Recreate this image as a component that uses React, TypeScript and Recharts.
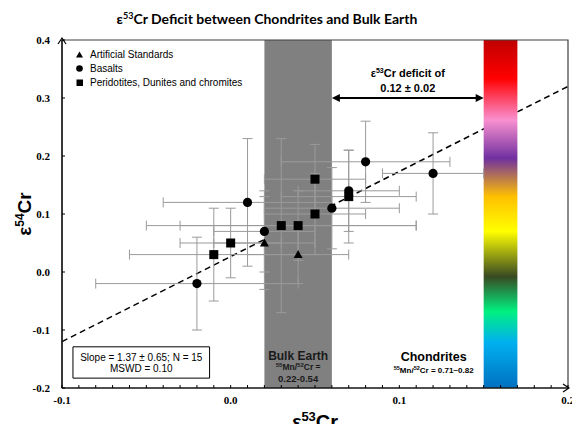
import React from "react";
import {
  ScatterChart,
  Scatter,
  XAxis,
  YAxis,
  ErrorBar,
  ReferenceArea,
  ReferenceLine,
  Legend,
} from "recharts";

// e53Cr / e54Cr with 2SD errors
const artificialStandards = [
  { x: 0.02, y: 0.05, xErr: 0.03, yErr: 0.08 },
  { x: 0.04, y: 0.03, xErr: 0.03, yErr: 0.05 },
];
const basalts = [
  { x: -0.02, y: -0.02, xErr: 0.06, yErr: 0.08 },
  { x: 0.01, y: 0.12, xErr: 0.05, yErr: 0.11 },
  { x: 0.02, y: 0.07, xErr: 0.03, yErr: 0.07 },
  { x: 0.06, y: 0.11, xErr: 0.04, yErr: 0.07 },
  { x: 0.07, y: 0.14, xErr: 0.03, yErr: 0.07 },
  { x: 0.08, y: 0.19, xErr: 0.05, yErr: 0.07 },
  { x: 0.12, y: 0.17, xErr: 0.03, yErr: 0.07 },
];
const peridotites = [
  { x: -0.01, y: 0.03, xErr: 0.05, yErr: 0.08 },
  { x: 0.0, y: 0.05, xErr: 0.03, yErr: 0.06 },
  { x: 0.03, y: 0.08, xErr: 0.08, yErr: 0.15 },
  { x: 0.04, y: 0.08, xErr: 0.07, yErr: 0.06 },
  { x: 0.05, y: 0.16, xErr: 0.03, yErr: 0.06 },
  { x: 0.05, y: 0.1, xErr: 0.03, yErr: 0.07 },
  { x: 0.07, y: 0.13, xErr: 0.04, yErr: 0.08 },
];

// regression line end points
const regression = [
  { x: -0.1, y: -0.12 },
  { x: 0.2, y: 0.32 },
];
const bulkEarthRange = [0.02, 0.06];
const chondriteRange = [0.15, 0.17];
const deficitArrow = [
  { x: 0.06, y: 0.3 },
  { x: 0.15, y: 0.3 },
];

const X_DOMAIN = [-0.1, 0.2];
const Y_DOMAIN = [-0.2, 0.4];
const Y_TICKS = [-0.2, -0.1, 0, 0.1, 0.2, 0.3, 0.4];
// minor ticks every 0.01, labels on every 0.1
const X_TICKS = Array.from({ length: 31 }, (_, i) => Math.round((-0.1 + i * 0.01) * 100) / 100);

const RAINBOW = [
  { offset: "0%", color: "#c00000" },
  { offset: "11%", color: "#ff0000" },
  { offset: "23%", color: "#f990d0" },
  { offset: "34%", color: "#7030a0" },
  { offset: "45%", color: "#ffc000" },
  { offset: "55%", color: "#ffff00" },
  { offset: "68%", color: "#384a22" },
  { offset: "78%", color: "#00f080" },
  { offset: "87%", color: "#00b0f0" },
  { offset: "100%", color: "#0070c0" },
];

const SANS = "'Liberation Sans', Arial, sans-serif";
const SERIF = "'Liberation Serif', 'Times New Roman', serif";
const ERR_COLOR = "#9a9a9a";

const fmt = (v: number) => (Math.abs(v) < 1e-9 ? "0.0" : v.toFixed(1));
const tickText = { fontFamily: SERIF, fontWeight: 700, fontSize: 11 };

const XTick = ({ x, y, payload }: any) => {
  const v = payload.value;
  const major = Math.abs(v * 10 - Math.round(v * 10)) < 1e-6;
  const last = v === X_DOMAIN[1];
  return (
    <g>
      <line x1={x} x2={x} y1={y} y2={y - 3} stroke="#000" />
      {last && <path d={`M${x - 5},${y - 4} L${x + 1},${y} L${x - 5},${y + 4}`} fill="none" stroke="#000" strokeWidth={1.2} />}
      {major && (
        <text x={x} y={y + 16} textAnchor="middle" style={tickText} fill="#000">
          {fmt(v)}
        </text>
      )}
    </g>
  );
};

const YTick = ({ x, y, payload }: any) => {
  const last = payload.value === Y_DOMAIN[1];
  return (
    <g>
      <line x1={x} x2={x + 3} y1={y} y2={y} stroke="#000" />
      {last && <path d={`M${x - 4},${y + 4} L${x},${y - 2} L${x + 4},${y + 4}`} fill="none" stroke="#000" strokeWidth={1.2} />}
      <text x={x - 12} y={y + 4} textAnchor="end" style={tickText} fill="#000">
        {fmt(payload.value)}
      </text>
    </g>
  );
};

const Circle = ({ cx, cy }: any) => <circle cx={cx} cy={cy} r={4.6} fill="#000" />;
const Square = ({ cx, cy }: any) => <rect x={cx - 4.5} y={cy - 4.5} width={9} height={9} fill="#000" />;
const Triangle = ({ cx, cy }: any) => (
  <polygon points={`${cx},${cy - 4.5} ${cx + 4.5},${cy + 3.5} ${cx - 4.5},${cy + 3.5}`} fill="#000" />
);

const legendIcon = (type: string) => {
  if (type === "triangle") return <polygon points="3.5,0.5 7,6.5 0,6.5" fill="#000" />;
  if (type === "square") return <rect x={0.5} y={0.5} width={6.5} height={6.5} fill="#000" />;
  return <circle cx={3.5} cy={3.5} r={3.3} fill="#000" />;
};

const LegendContent = ({ payload }: any) => (
  <div style={{ fontFamily: SANS, fontSize: 10, color: "#000" }}>
    {(payload || []).map((p: any) => (
      <div key={p.value} style={{ display: "flex", alignItems: "center", height: 14, whiteSpace: "nowrap" }}>
        <svg width={7} height={7} style={{ marginRight: 7 }}>
          {legendIcon(p.type)}
        </svg>
        <span>{p.value}</span>
      </div>
    ))}
  </div>
);

const BulkEarthLabel = ({ viewBox }: any) => {
  const cx = viewBox.x + viewBox.width / 2;
  const bottom = viewBox.y + viewBox.height;
  return (
    <g fontFamily={SANS} fontWeight="bold" fill="#1a1a1a" textAnchor="middle">
      <text x={cx} y={bottom - 28} fontSize={12}>Bulk Earth</text>
      <text x={cx} y={bottom - 18} fontSize={8.5}>
        <tspan fontSize={6} dy={-3}>55</tspan>
        <tspan dy={3}>Mn/</tspan>
        <tspan fontSize={6} dy={-3}>52</tspan>
        <tspan dy={3}>Cr =</tspan>
      </text>
      <text x={cx} y={bottom - 6} fontSize={9.5}>0.22-0.54</text>
    </g>
  );
};

const ChondriteLabel = ({ viewBox }: any) => {
  const cx = viewBox.x - 50;
  const bottom = viewBox.y + viewBox.height;
  return (
    <g fontFamily={SANS} fontWeight="bold" fill="#000" textAnchor="middle">
      <text x={cx} y={bottom - 27} fontSize={12.5}>Chondrites</text>
      <text x={cx} y={bottom - 15} fontSize={8}>
        <tspan fontSize={5.5} dy={-3}>55</tspan>
        <tspan dy={3}>Mn/</tspan>
        <tspan fontSize={5.5} dy={-3}>52</tspan>
        <tspan dy={3}>Cr = 0.71~0.82</tspan>
      </text>
    </g>
  );
};

const SlopeLabel = ({ viewBox }: any) => {
  const cx = viewBox.x + viewBox.width / 2;
  return (
    <g fontFamily={SANS} fontSize={10} fill="#000" textAnchor="middle">
      <text x={cx} y={viewBox.y + 14}>Slope = 1.37 ± 0.65; N = 15</text>
      <text x={cx} y={viewBox.y + 25}>MSWD = 0.10</text>
    </g>
  );
};

const DeficitArrow = ({ x1, y1, x2 }: any) => {
  const h = 8;
  const w = 4;
  const mid = (x1 + x2) / 2;
  return (
    <g>
      <line x1={x1 + h - 1} y1={y1} x2={x2 - h + 1} y2={y1} stroke="#000" strokeWidth={2} />
      <polygon points={`${x1},${y1} ${x1 + h},${y1 - w} ${x1 + h},${y1 + w}`} fill="#000" />
      <polygon points={`${x2},${y1} ${x2 - h},${y1 - w} ${x2 - h},${y1 + w}`} fill="#000" />
      <g fontFamily={SANS} fontWeight="bold" fontSize={11} fill="#000" textAnchor="middle">
        <text x={mid} y={y1 - 21}>
          ε<tspan fontSize={7} dy={-4}>53</tspan>
          <tspan dy={4}>Cr deficit of</tspan>
        </text>
        <text x={mid} y={y1 - 6}>0.12 ± 0.02</text>
      </g>
    </g>
  );
};

const XLabel = ({ viewBox }: any) => (
  <text x={viewBox.x + viewBox.width / 2} y={viewBox.y + 41} textAnchor="middle" fontFamily={SANS} fontWeight="bold" fontSize={20} fill="#000">
    ε<tspan fontSize={13} dy={-8}>53</tspan>
    <tspan dy={8}>Cr</tspan>
  </text>
);

const YLabel = ({ viewBox }: any) => {
  const x = 31;
  const y = viewBox.y + viewBox.height / 2;
  return (
    <text x={x} y={y} transform={`rotate(-90, ${x}, ${y})`} textAnchor="middle" fontFamily={SANS} fontWeight="bold" fontSize={19} fill="#000">
      ε<tspan fontSize={12} dy={-7}>54</tspan>
      <tspan dy={7}>Cr</tspan>
    </text>
  );
};

export default function App() {
  return (
    <div style={{ position: "absolute", left: 0, top: 0, width: 572, height: 424, background: "#fff", overflow: "hidden" }}>
      <div
        style={{
          position: "absolute",
          top: 8,
          left: 0,
          width: 534,
          textAlign: "center",
          fontFamily: "Lato, 'Open Sans', sans-serif",
          fontWeight: "bold",
          fontSize: 14,
          lineHeight: "16px",
          color: "#000",
        }}
      >
        ε<sup style={{ fontSize: 9, verticalAlign: 5 }}>53</sup>Cr Deficit between Chondrites and Bulk Earth
      </div>
      <ScatterChart width={572} height={424} margin={{ top: 40, right: 4, left: 0, bottom: 0 }}>
        <defs>
          <linearGradient id="rainbow" x1="0" y1="0" x2="0" y2="1">
            {RAINBOW.map((s) => (
              <stop key={s.offset} offset={s.offset} stopColor={s.color} />
            ))}
          </linearGradient>
        </defs>
        <ReferenceLine
          segment={regression}
          stroke="#000"
          strokeWidth={1.5}
          strokeDasharray="6 4"
          zIndex={50}
        />
        <ReferenceArea
          x1={bulkEarthRange[0]}
          x2={bulkEarthRange[1]}
          y1={Y_DOMAIN[0]}
          y2={Y_DOMAIN[1]}
          fill="#808080"
          fillOpacity={1}
          stroke="none"
          zIndex={60}
          label={BulkEarthLabel}
        />
        <ReferenceArea
          x1={chondriteRange[0]}
          x2={chondriteRange[1]}
          y1={Y_DOMAIN[0]}
          y2={Y_DOMAIN[1]}
          fill="url(#rainbow)"
          fillOpacity={1}
          stroke="none"
          zIndex={60}
          label={ChondriteLabel}
        />
        <ReferenceArea
          x1={X_DOMAIN[0]}
          x2={X_DOMAIN[1]}
          y1={Y_DOMAIN[0]}
          y2={Y_DOMAIN[1]}
          fill="none"
          fillOpacity={0}
          stroke="#404040"
          strokeWidth={1.2}
          zIndex={70}
        />
        <ReferenceArea
          x1={-0.0935}
          x2={-0.0125}
          y1={-0.183}
          y2={-0.129}
          fill="#fff"
          fillOpacity={1}
          stroke="#000"
          strokeWidth={1}
          label={SlopeLabel}
        />
        <ReferenceLine segment={deficitArrow} shape={DeficitArrow} zIndex={500} />
        <XAxis
          type="number"
          dataKey="x"
          domain={X_DOMAIN}
          allowDataOverflow
          ticks={X_TICKS}
          interval={0}
          tick={XTick}
          tickLine={false}
          tickSize={0}
          tickMargin={0}
          height={36}
          axisLine={{ stroke: "#000", strokeWidth: 1.2 }}
          label={XLabel}
        />
        <YAxis
          type="number"
          dataKey="y"
          domain={Y_DOMAIN}
          allowDataOverflow
          ticks={Y_TICKS}
          interval={0}
          tick={YTick}
          tickLine={false}
          tickSize={0}
          tickMargin={0}
          width={62}
          axisLine={{ stroke: "#000", strokeWidth: 1.2 }}
          label={YLabel}
        />
        <Legend
          layout="vertical"
          align="center"
          verticalAlign="middle"
          content={LegendContent}
          wrapperStyle={{ top: 47, left: 76, width: "auto" }}
        />
        <Scatter name="Artificial Standards" data={artificialStandards} legendType="triangle" fill="#000" shape={Triangle} isAnimationActive={false}>
          <ErrorBar dataKey="xErr" direction="x" width={5} stroke={ERR_COLOR} strokeWidth={1} isAnimationActive={false} />
          <ErrorBar dataKey="yErr" direction="y" width={5} stroke={ERR_COLOR} strokeWidth={1} isAnimationActive={false} />
        </Scatter>
        <Scatter name="Basalts" data={basalts} legendType="circle" fill="#000" shape={Circle} isAnimationActive={false}>
          <ErrorBar dataKey="xErr" direction="x" width={5} stroke={ERR_COLOR} strokeWidth={1} isAnimationActive={false} />
          <ErrorBar dataKey="yErr" direction="y" width={5} stroke={ERR_COLOR} strokeWidth={1} isAnimationActive={false} />
        </Scatter>
        <Scatter name="Peridotites, Dunites and chromites" data={peridotites} legendType="square" fill="#000" shape={Square} isAnimationActive={false}>
          <ErrorBar dataKey="xErr" direction="x" width={5} stroke={ERR_COLOR} strokeWidth={1} isAnimationActive={false} />
          <ErrorBar dataKey="yErr" direction="y" width={5} stroke={ERR_COLOR} strokeWidth={1} isAnimationActive={false} />
        </Scatter>
      </ScatterChart>
    </div>
  );
}
